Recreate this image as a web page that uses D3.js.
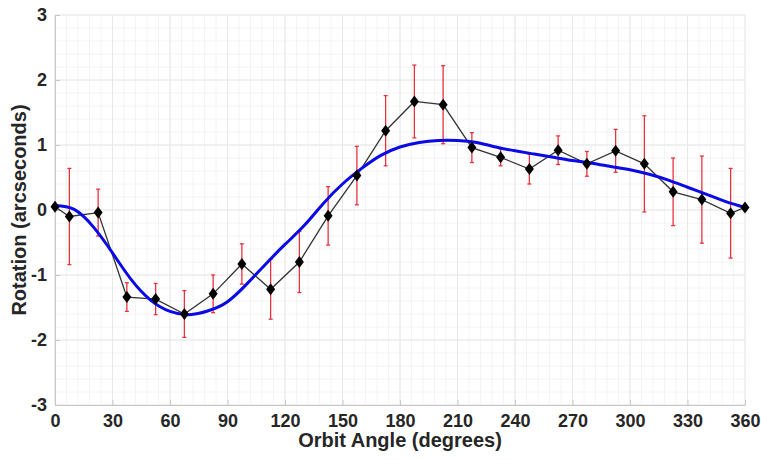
<!DOCTYPE html>
<html>
<head>
<meta charset="utf-8">
<script src="https://cdn.jsdelivr.net/npm/d3@7"></script>
<style>
  body { margin: 0; background: #fff; }
  text { font-family: "Liberation Sans", Arial, sans-serif; font-weight: bold; fill: #262626; }
</style>
</head>
<body>
<script>
// Data
const angles = [0, 7.5, 22.5, 37.5, 52.5, 67.5, 82.5, 97.5, 112.5, 127.5, 142.5, 157.5, 172.5,
  187.5, 202.5, 217.5, 232.5, 247.5, 262.5, 277.5, 292.5, 307.5, 322.5, 337.5, 352.5, 360];
const rotation = [0.05, -0.10, -0.04, -1.34, -1.37, -1.60, -1.29, -0.83, -1.22, -0.80, -0.09, 0.53, 1.22,
  1.67, 1.62, 0.96, 0.81, 0.63, 0.92, 0.71, 0.91, 0.71, 0.28, 0.16, -0.05, 0.04];
const errors = [null, 0.74, 0.36, 0.22, 0.24, 0.36, 0.29, 0.31, 0.46, 0.47, 0.45, 0.45, 0.54,
  0.56, 0.60, 0.23, 0.13, 0.23, 0.22, 0.19, 0.33, 0.74, 0.52, 0.67, 0.69, null];

// fitted curve (blue)
const fitAngles = d3.range(0, 361, 10);
const fitValues = [0.07, 0.01, -0.26, -0.66, -1.08, -1.39, -1.56, -1.61, -1.55, -1.41, -1.14, -0.83, -0.53,
  -0.24, 0.10, 0.40, 0.64, 0.84, 0.97, 1.04, 1.07, 1.07, 1.04, 0.97, 0.91, 0.86, 0.81, 0.76, 0.72,
  0.67, 0.62, 0.55, 0.46, 0.35, 0.24, 0.13, 0.04];

const xTicks = d3.range(0, 361, 30);
const yTicks = [-3, -2, -1, 0, 1, 2, 3];

const width = 761;
const height = 460;
const marginTop = 15;
const marginRight = 16;
const marginBottom = 55;
const marginLeft = 55;

const x = d3.scaleLinear().domain([0, 360]).range([marginLeft, width - marginRight]);
const y = d3.scaleLinear().domain([-3, 3]).range([height - marginBottom, marginTop]);

const svg = d3.select("body").append("svg")
    .attr("width", width)
    .attr("height", height);

// minor grid
svg.append("g")
    .selectAll("line")
    .data(d3.range(0, 361, 6))
    .join("line")
    .attr("x1", d => x(d)).attr("x2", d => x(d))
    .attr("y1", y(-3)).attr("y2", y(3))
    .attr("stroke", "#f4f4f4");
svg.append("g")
    .selectAll("line")
    .data(d3.range(-3, 3.01, 0.2))
    .join("line")
    .attr("x1", x(0)).attr("x2", x(360))
    .attr("y1", d => y(d)).attr("y2", d => y(d))
    .attr("stroke", "#f4f4f4");

// major grid
svg.append("g")
    .selectAll("line")
    .data(xTicks)
    .join("line")
    .attr("x1", d => x(d)).attr("x2", d => x(d))
    .attr("y1", y(-3)).attr("y2", y(3))
    .attr("stroke", "#e8e8e8");
svg.append("g")
    .selectAll("line")
    .data(yTicks)
    .join("line")
    .attr("x1", x(0)).attr("x2", x(360))
    .attr("y1", d => y(d)).attr("y2", d => y(d))
    .attr("stroke", "#e8e8e8");

// axes
const xAxis = svg.append("g")
    .attr("transform", `translate(0,${y(-3)})`)
    .call(d3.axisBottom(x).tickValues(xTicks).tickFormat(d => String(d))
      .tickSizeInner(-5).tickSizeOuter(0).tickPadding(9));
const yAxis = svg.append("g")
    .attr("transform", `translate(${x(0)},0)`)
    .call(d3.axisLeft(y).tickValues(yTicks).tickFormat(d => String(d))
      .tickSizeInner(-5).tickSizeOuter(0).tickPadding(8));

[xAxis, yAxis].forEach(a => {
  a.select(".domain").attr("stroke", "#c8c8c8");
  a.selectAll(".tick line").attr("stroke", "#c8c8c8");
  a.selectAll(".tick text").style("font-size", "18px").attr("fill", "#262626");
});

// error bars
const pts = angles.map((a, i) => ({ a, v: rotation[i], e: errors[i] }));
const withErr = pts.filter(d => d.e != null);
const red = "#e8323f";
const bars = svg.append("g").attr("stroke", red).attr("stroke-width", 1.3);
bars.selectAll(".v").data(withErr).join("line")
    .attr("x1", d => x(d.a)).attr("x2", d => x(d.a))
    .attr("y1", d => y(d.v + d.e)).attr("y2", d => y(d.v - d.e));
bars.selectAll(".t").data(withErr).join("line")
    .attr("x1", d => x(d.a) - 2).attr("x2", d => x(d.a) + 2)
    .attr("y1", d => y(d.v + d.e)).attr("y2", d => y(d.v + d.e));
bars.selectAll(".b").data(withErr).join("line")
    .attr("x1", d => x(d.a) - 2).attr("x2", d => x(d.a) + 2)
    .attr("y1", d => y(d.v - d.e)).attr("y2", d => y(d.v - d.e));

// data line
svg.append("path")
    .datum(pts)
    .attr("fill", "none")
    .attr("stroke", "#333")
    .attr("stroke-width", 1.3)
    .attr("d", d3.line().x(d => x(d.a)).y(d => y(d.v)));

// fitted curve
svg.append("path")
    .datum(fitAngles.map((a, i) => [a, fitValues[i]]))
    .attr("fill", "none")
    .attr("stroke", "#0a0ae6")
    .attr("stroke-width", 3)
    .attr("d", d3.line().x(d => x(d[0])).y(d => y(d[1])).curve(d3.curveNatural));

// diamonds
svg.append("g")
    .selectAll("path")
    .data(pts)
    .join("path")
    .attr("d", "M0,-6L4.5,0L0,6L-4.5,0Z")
    .attr("transform", d => `translate(${x(d.a)},${y(d.v)})`)
    .attr("fill", "#000");

// axis labels
svg.append("text")
    .attr("x", (x(0) + x(360)) / 2)
    .attr("y", 447)
    .attr("text-anchor", "middle")
    .style("font-size", "20px")
    .text("Orbit Angle (degrees)");

svg.append("text")
    .attr("transform", `translate(26,${y(0)}) rotate(-90)`)
    .attr("text-anchor", "middle")
    .style("font-size", "20px")
    .text("Rotation (arcseconds)");
</script>
</body>
</html>
